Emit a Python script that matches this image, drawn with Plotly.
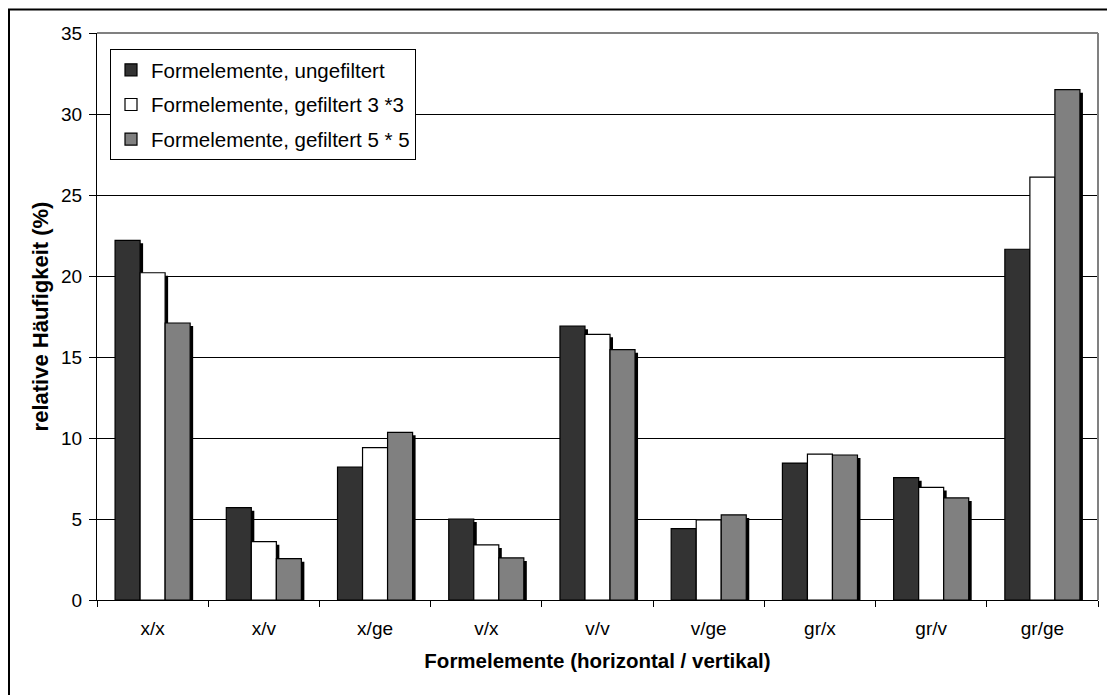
import plotly.graph_objects as go

categories = ["x/x", "x/v", "x/ge", "v/x", "v/v", "v/ge", "gr/x", "gr/v", "gr/ge"]
ungefiltert = [22.2, 5.7, 8.2, 5.0, 16.9, 4.4, 8.45, 7.55, 21.65]
gefiltert_3 = [20.2, 3.6, 9.4, 3.4, 16.4, 4.95, 9.0, 6.95, 26.1]
gefiltert_5 = [17.1, 2.55, 10.35, 2.6, 15.45, 5.25, 8.95, 6.3, 31.5]
series_names = ["Formelemente, ungefiltert", "Formelemente, gefiltert 3 *3", "Formelemente, gefiltert 5 * 5"]
series_values = [ungefiltert, gefiltert_3, gefiltert_5]
colors = ["#333333", "#FFFFFF", "#808080"]
y_ticks = [0, 5, 10, 15, 20, 25, 30, 35]

# page body has an 8px margin, so the figure is 8px smaller and every
# pixel position below is given relative to the figure's own corner
OFF = 8
W, H = 1115 - OFF, 695 - OFF
PL, PT, PR, PB = 97 - OFF, 33 - OFF, 1098 - OFF, 600 - OFF
ML, MT, MR, MB = PL, PT, W - PR, H - PB
PW, PH = PR - PL, PB - PT
YMAX = 35

bar_w = 0.225
offsets = [-0.3375, -0.1125, 0.1125]
sh_dx = 3 * len(categories) / PW
sh_dy = 3 * YMAX / PH
FONT = "Liberation Sans, Arial, sans-serif"

fig = go.Figure()
for i, (name, vals, col) in enumerate(zip(series_names, series_values, colors)):
    fig.add_trace(go.Bar(
        x=categories, y=[v - sh_dy for v in vals],
        offset=offsets[i] + sh_dx, width=bar_w,
        marker=dict(color="black", line=dict(width=0)),
        showlegend=False, hoverinfo="skip"))
    fig.add_trace(go.Bar(
        x=categories, y=vals, name=name, legendgroup=name,
        offset=offsets[i], width=bar_w,
        marker=dict(color=col, line=dict(color="black", width=1.2))))

fig.update_layout(
    width=W, height=H,
    margin=dict(l=ML, r=MR, t=MT, b=MB, autoexpand=False),
    paper_bgcolor="white", plot_bgcolor="white",
    barmode="overlay",
    font=dict(family=FONT, size=19, color="black"),
    legend=dict(
        x=(110 - OFF - PL) / PW, y=(PB - (49 - OFF)) / PH, xanchor="left", yanchor="top",
        bgcolor="white", bordercolor="black", borderwidth=1,
        font=dict(size=20.5), tracegroupgap=5),
    xaxis=dict(
        type="category", range=[-0.5, len(categories) - 0.5],
        showline=True, linecolor="black", linewidth=1,
        ticks="outside", tickson="boundaries", ticklen=6, tickcolor="black",
        showgrid=False, ticklabelstandoff=11,
        tickfont=dict(size=19),
        title=dict(text="<b>Formelemente (horizontal / vertikal)</b>", font=dict(size=20.5), standoff=15)),
    yaxis=dict(
        range=[0, YMAX], tickvals=y_ticks,
        showline=True, linecolor="black", linewidth=1,
        ticks="outside", ticklen=7, tickcolor="black", ticklabelstandoff=3,
        showgrid=True, gridcolor="black", gridwidth=1,
        zeroline=False, tickfont=dict(size=19),
        title=dict(text="<b>relative Häufigkeit (%)</b>", font=dict(size=22), standoff=6)),
    shapes=[
        dict(type="line", xref="paper", yref="paper", x0=0, x1=1, y0=1, y1=1,
             line=dict(color="#808080", width=2), layer="above"),
        dict(type="line", xref="paper", yref="paper", x0=1, x1=1, y0=0, y1=1,
             line=dict(color="#808080", width=2), layer="above"),
        dict(type="rect", xref="paper", yref="paper",
             x0=(1 - PL) / PW, x1=(W + 10 - PL) / PW,
             y0=-(MB + 10) / PH, y1=(PB - 1.5) / PH,
             line=dict(color="black", width=2), fillcolor="rgba(0,0,0,0)", layer="above"),
    ],
)

fig.write_html("out.html")
